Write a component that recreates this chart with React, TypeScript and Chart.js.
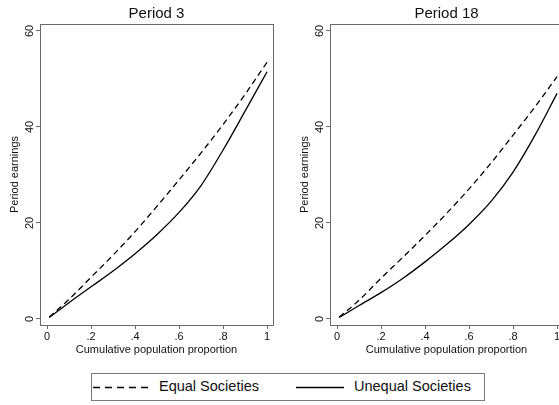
import { useEffect, useRef } from "react";
import { Chart, registerables } from "chart.js";

Chart.register(...registerables);

// Cumulative population proportion (x) and period earnings (y) per society type
const POPULATION = [0.01, 0.1, 0.2, 0.3, 0.4, 0.5, 0.6, 0.7, 0.8, 0.9, 1.0];
const P3_EQUAL = [0.4, 4.1, 8.7, 13.3, 18.2, 23.5, 29.0, 34.6, 40.5, 46.8, 53.5];
const P3_UNEQUAL = [0.3, 3.4, 6.7, 10.0, 13.6, 17.6, 22.2, 27.8, 35.2, 43.3, 51.5];
const P18_EQUAL = [0.4, 3.9, 8.5, 12.9, 17.4, 22.1, 27.1, 32.5, 38.3, 44.2, 50.5];
const P18_UNEQUAL = [0.3, 2.8, 5.5, 8.5, 11.9, 15.6, 19.7, 24.5, 30.6, 38.3, 47.0];

const X_TICKS = [0, 0.2, 0.4, 0.6, 0.8, 1];
const Y_TICKS = [0, 20, 40, 60];
const SERIES_LABELS = ["Equal Societies", "Unequal Societies"];
const PANEL_TITLES = ["Period 3", "Period 18"];
const X_TITLE = "Cumulative population proportion";
const Y_TITLE = "Period earnings";

const FONT = "'Liberation Sans', Arial, Helvetica, sans-serif";
const TEXT = "#111111";
const FRAME = "#6a6a6a";
const DASH = [6, 4];

// Stata-style plot region box drawn around the chart area
const framePlugin = {
  id: "plotFrame",
  afterDraw(chart: any) {
    const { ctx, chartArea } = chart;
    const { left, top, right, bottom } = chartArea;
    ctx.save();
    ctx.strokeStyle = FRAME;
    ctx.lineWidth = 1;
    ctx.strokeRect(left + 0.5, top + 0.5, right - left, bottom - top);
    ctx.restore();
  },
};

function fmtX(v: number) {
  if (v === 0) return "0";
  if (v === 1) return "1";
  return String(v).replace(/^0/, "");
}

function Panel({ title, equal, unequal, left }: { title: string; equal: number[]; unequal: number[]; left: number }) {
  const ref = useRef<HTMLCanvasElement | null>(null);

  useEffect(() => {
    if (!ref.current) return;
    const toPoints = (ys: number[]) => POPULATION.map((x, i) => ({ x, y: ys[i] }));
    const chart = new Chart(ref.current, {
      type: "line",
      data: {
        datasets: [
          {
            label: SERIES_LABELS[0],
            data: toPoints(equal),
            borderColor: "#000",
            borderWidth: 1.3,
            borderDash: DASH,
            pointRadius: 0,
            cubicInterpolationMode: "monotone",
            fill: false,
          },
          {
            label: SERIES_LABELS[1],
            data: toPoints(unequal),
            borderColor: "#000",
            borderWidth: 1.3,
            pointRadius: 0,
            cubicInterpolationMode: "monotone",
            fill: false,
          },
        ],
      },
      options: {
        responsive: false,
        animation: false,
        events: [],
        layout: { padding: { left: 0, right: 7, top: 0, bottom: 0 } },
        plugins: {
          legend: { display: false },
          tooltip: { enabled: false },
          title: {
            display: true,
            fullSize: false,
            text: title,
            color: TEXT,
            font: { family: FONT, size: 15, weight: "normal", lineHeight: 1.2 },
            padding: { top: 5, bottom: 1 },
          },
        },
        scales: {
          x: {
            type: "linear",
            min: -0.032,
            max: 1.027,
            border: { display: false },
            grid: { drawOnChartArea: false, drawTicks: true, tickLength: 4, color: FRAME },
            afterBuildTicks: (s: any) => {
              s.ticks = X_TICKS.map((value) => ({ value }));
            },
            afterFit: (s: any) => {
              s.height = 40;
            },
            ticks: {
              color: TEXT,
              padding: 1,
              maxRotation: 0,
              autoSkip: false,
              font: { family: FONT, size: 11 },
              callback: (v: any) => fmtX(Number(v)),
            },
            title: {
              display: true,
              text: X_TITLE,
              color: TEXT,
              font: { family: FONT, size: 11 },
              padding: { top: 0, bottom: 8 },
            },
          },
          y: {
            type: "linear",
            min: -1.25,
            max: 61.45,
            border: { display: false },
            grid: { drawOnChartArea: false, drawTicks: true, tickLength: 4, color: FRAME },
            afterBuildTicks: (s: any) => {
              s.ticks = Y_TICKS.map((value) => ({ value }));
            },
            afterFit: (s: any) => {
              s.width = 40;
            },
            ticks: {
              color: TEXT,
              padding: 0,
              minRotation: 90,
              maxRotation: 90,
              crossAlign: "center",
              autoSkip: false,
              font: { family: FONT, size: 11 },
            },
            title: {
              display: true,
              text: Y_TITLE,
              color: TEXT,
              font: { family: FONT, size: 11 },
              padding: { top: 8, bottom: 0 },
            },
          },
        },
      },
      plugins: [framePlugin],
    } as any);
    return () => chart.destroy();
  }, [title, equal, unequal]);

  return (
    <canvas
      ref={ref}
      width={280}
      height={365}
      style={{ position: "absolute", left, top: 0, width: 280, height: 365 }}
    />
  );
}

function Legend() {
  return (
    <div
      style={{
        position: "absolute",
        left: 91,
        top: 373,
        width: 394,
        height: 28,
        boxSizing: "border-box",
        border: "1px solid #7a7a7a",
        fontFamily: FONT,
        fontSize: 14.5,
        color: TEXT,
      }}
    >
      <svg width={392} height={26} style={{ position: "absolute", left: 0, top: 0 }}>
        <line x1={1} y1={13.5} x2={57} y2={13.5} stroke="#000" strokeWidth={1.3} strokeDasharray="7 5" />
        <line x1={204} y1={13.5} x2={252} y2={13.5} stroke="#000" strokeWidth={1.3} />
      </svg>
      <span style={{ position: "absolute", left: 67, top: 4, lineHeight: "17px", whiteSpace: "nowrap" }}>
        {SERIES_LABELS[0]}
      </span>
      <span style={{ position: "absolute", left: 262, top: 4, lineHeight: "17px", whiteSpace: "nowrap" }}>
        {SERIES_LABELS[1]}
      </span>
    </div>
  );
}

export default function App() {
  return (
    <div
      style={{
        position: "fixed",
        left: 0,
        top: 0,
        width: 559,
        height: 405,
        overflow: "hidden",
        background: "#fff",
      }}
    >
      <Panel title={PANEL_TITLES[0]} equal={P3_EQUAL} unequal={P3_UNEQUAL} left={0} />
      <Panel title={PANEL_TITLES[1]} equal={P18_EQUAL} unequal={P18_UNEQUAL} left={290} />
      <Legend />
    </div>
  );
}
